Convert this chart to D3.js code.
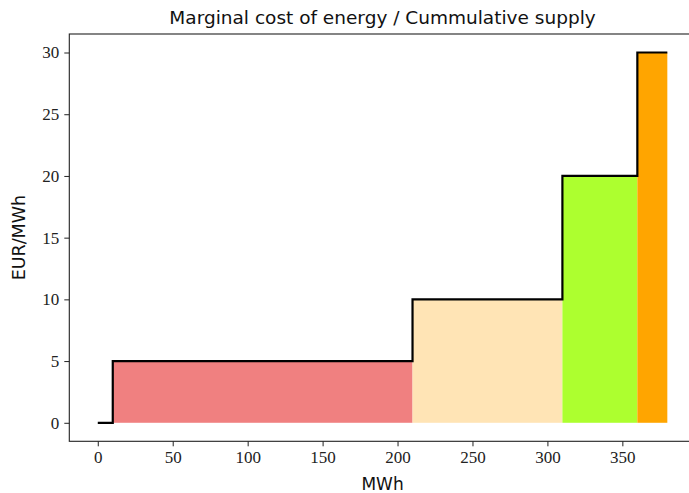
<!DOCTYPE html>
<html>
<head>
<meta charset="utf-8">
<script src="https://cdn.jsdelivr.net/npm/d3@7"></script>
<style>
  html, body { margin: 0; padding: 0; background: #fff; }
  svg { display: block; }
</style>
</head>
<body>
<svg id="chart" width="689" height="493"></svg>
<script>
// Supply blocks: cumulative MWh range and marginal price (EUR/MWh)
const blockStart = [0, 10, 210, 310, 360];
const blockEnd   = [10, 210, 310, 360, 380];
const blockPrice = [0, 5, 10, 20, 30];
const blockColor = [null, "#F08080", "#FFE4B5", "#ADFF2F", "#FFA500"];

const xTicks = [0, 50, 100, 150, 200, 250, 300, 350];
const yTicks = [0, 5, 10, 15, 20, 25, 30];

const titleText = "Marginal cost of energy / Cummulative supply";
const xLabel = "MWh";
const yLabel = "EUR/MWh";

const svg = d3.select("#chart");
const plotLeft = 69.3, plotRight = 695.8, plotTop = 34, plotBottom = 441.3;

const x = d3.scaleLinear().domain([-19, 399]).range([plotLeft, plotRight]);
const y = d3.scaleLinear().domain([-1.5, 31.5]).range([plotBottom, plotTop]);

const blocks = blockStart.map((s, i) => ({ s, e: blockEnd[i], p: blockPrice[i], c: blockColor[i] }));

// filled blocks
svg.append("g").selectAll("rect")
  .data(blocks.filter(d => d.c))
  .join("rect")
  .attr("x", d => x(d.s))
  .attr("width", d => x(d.e) - x(d.s))
  .attr("y", d => y(d.p))
  .attr("height", d => y(0) - y(d.p))
  .attr("fill", d => d.c);

// step line of the supply curve
const pts = blocks.map(d => [d.s, d.p]);
pts.push([blockEnd[blockEnd.length - 1], blockPrice[blockPrice.length - 1]]);
const line = d3.line().x(d => x(d[0])).y(d => y(d[1])).curve(d3.curveStepAfter);
svg.append("path")
  .attr("d", line(pts))
  .attr("fill", "none")
  .attr("stroke", "#000")
  .attr("stroke-width", 2.2)
  .attr("stroke-linejoin", "miter");

// frame
svg.append("rect")
  .attr("x", plotLeft).attr("y", plotTop)
  .attr("width", plotRight - plotLeft).attr("height", plotBottom - plotTop)
  .attr("fill", "none").attr("stroke", "#222").attr("stroke-width", 1.1);

const tickFont = "'Liberation Serif', 'DejaVu Serif', serif";
const xAxis = svg.append("g")
  .attr("transform", `translate(0,${plotBottom})`)
  .call(d3.axisBottom(x).tickValues(xTicks).tickSize(5).tickPadding(5).tickFormat(d3.format("d")));
const yAxis = svg.append("g")
  .attr("transform", `translate(${plotLeft},0)`)
  .call(d3.axisLeft(y).tickValues(yTicks).tickSize(5).tickPadding(5).tickFormat(d3.format("d")));
[xAxis, yAxis].forEach(g => {
  g.select(".domain").remove();
  g.selectAll("line").attr("stroke", "#222").attr("stroke-width", 1);
  g.selectAll("text").attr("font-family", tickFont).attr("font-size", 17).attr("fill", "#222");
});

const sans = "'DejaVu Sans', sans-serif";
svg.append("text")
  .attr("x", (plotLeft + plotRight) / 2).attr("y", 24)
  .attr("text-anchor", "middle")
  .attr("font-family", sans).attr("font-size", 18.5).attr("fill", "#111")
  .text(titleText);

svg.append("text")
  .attr("x", (plotLeft + plotRight) / 2).attr("y", 490)
  .attr("text-anchor", "middle")
  .attr("font-family", sans).attr("font-size", 17).attr("fill", "#111")
  .text(xLabel);

svg.append("text")
  .attr("transform", `translate(25,${(plotTop + plotBottom) / 2}) rotate(-90)`)
  .attr("text-anchor", "middle")
  .attr("font-family", sans).attr("font-size", 17.5).attr("fill", "#111")
  .text(yLabel);
</script>
</body>
</html>
